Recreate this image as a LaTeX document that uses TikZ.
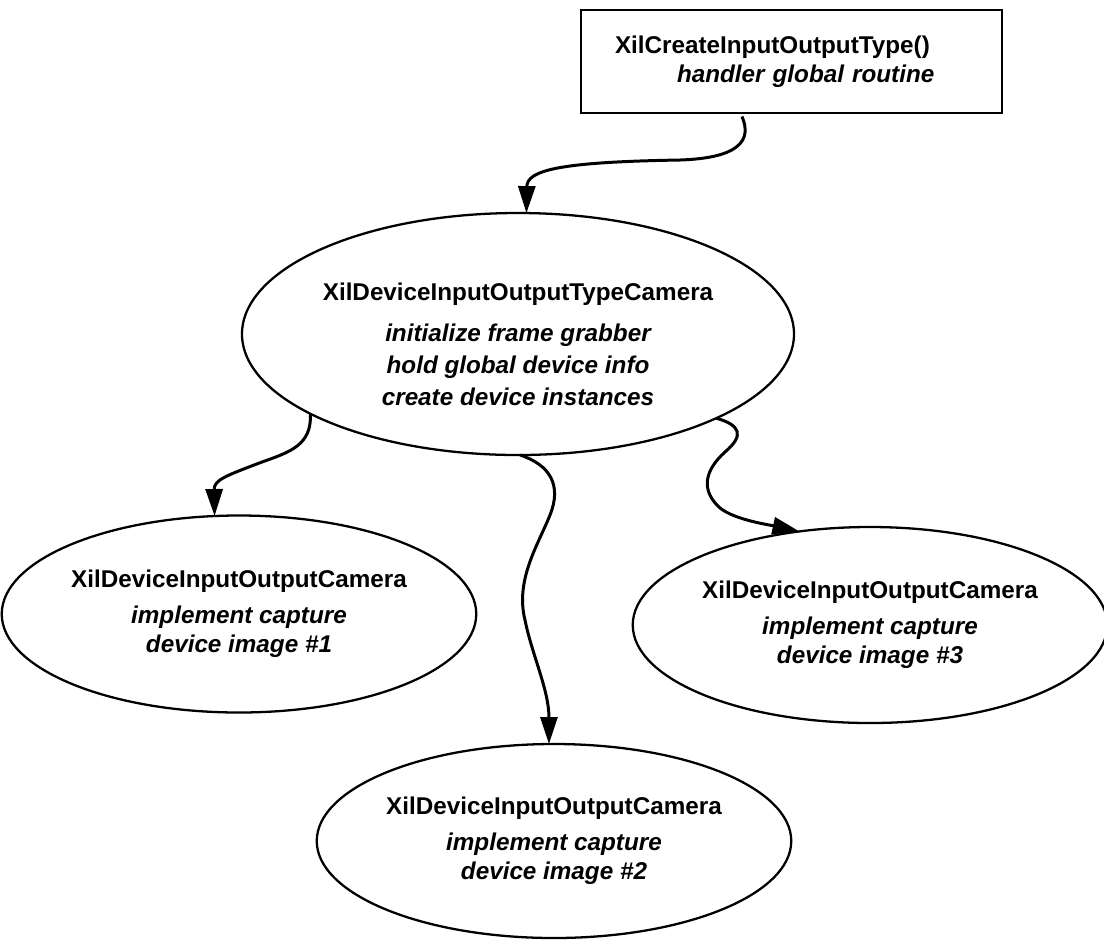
\documentclass[tikz,border=0pt]{standalone}
\usepackage{fontspec}
\setmainfont{Liberation Sans}
\usepackage{tikz}
\usetikzlibrary{arrows.meta,shapes.geometric,positioning}

\tikzset{
  iofont/.style={font=\fontsize{13.8}{16.5}\selectfont\bfseries},
  camell/.style={ellipse, draw, line width=1.3pt, inner sep=0pt, outer sep=0pt, align=center, iofont},
  handlerbox/.style={rectangle, draw, line width=1.6pt, inner sep=0pt, outer sep=0pt, iofont},
  flowarrow/.style={line width=1.7pt, -{Triangle[length=0.54cm,width=0.34cm]}}
}

\begin{document}
\begin{tikzpicture}
\useasboundingbox (0,0) rectangle (22.08,-18.78);

%handler box
\node[handlerbox, minimum width=8.42cm, minimum height=2.06cm, text width=7.06cm, inner xsep=0.68cm, align=left] (create) at (15.83,-1.23)
  {XilCreateInputOutputType()\\ \hspace*{1.24cm}\itshape handler global routine};

%device type
\node[camell, minimum width=10.48cm, minimum height=4.84cm, font=\fontsize{13.8}{18.2}\selectfont\bfseries] (iotype) at (10.36,-6.68)
  {\rule{0pt}{0.75cm}XilDeviceInputOutputTypeCamera\\[5pt] \itshape initialize frame grabber\\ \itshape hold global device info\\ \itshape create device instances};

%device instances
\node[camell, minimum width=9.0cm, minimum height=3.94cm] (cam1) at (4.78,-12.28)
  {XilDeviceInputOutputCamera\\[4pt] \itshape implement capture\\ \itshape device image \#1};
\node[camell, minimum width=9.12cm, minimum height=3.88cm] (cam2) at (11.08,-16.82)
  {XilDeviceInputOutputCamera\\[4pt] \itshape implement capture\\ \itshape device image \#2};
\node[camell, minimum width=8.84cm, minimum height=3.92cm] (cam3) at (17.40,-12.50)
  {XilDeviceInputOutputCamera\\[4pt] \itshape implement capture\\ \itshape device image \#3};

%connectors
\draw[flowarrow] ([xshift=-0.99cm,yshift=-0.07cm]create.south) .. controls (15.04,-2.80) and (14.80,-3.16) .. (13.60,-3.20)
  .. controls (11.20,-3.24) and (10.54,-3.40) .. (iotype.86);
\draw[flowarrow] (iotype.201.7) .. controls (6.24,-8.90) and (5.80,-9.04) .. (5.24,-9.24)
  .. controls (4.50,-9.52) and (4.28,-9.60) .. (cam1.104);
\draw[flowarrow] (iotype.271) .. controls (11.00,-9.30) and (11.24,-9.70) .. (11.00,-10.30)
  .. controls (10.76,-10.90) and (10.30,-11.60) .. (10.50,-12.40)
  .. controls (10.64,-13.10) and (10.98,-13.80) .. (cam2.93.5);
\draw[flowarrow] (iotype.337.3) .. controls (14.80,-8.50) and (14.90,-8.70) .. (14.50,-9.04)
  .. controls (14.10,-9.40) and (14.00,-9.80) .. (14.40,-10.16)
  .. controls (14.70,-10.40) and (15.40,-10.50) .. (cam3.127);
\end{tikzpicture}
\end{document}
